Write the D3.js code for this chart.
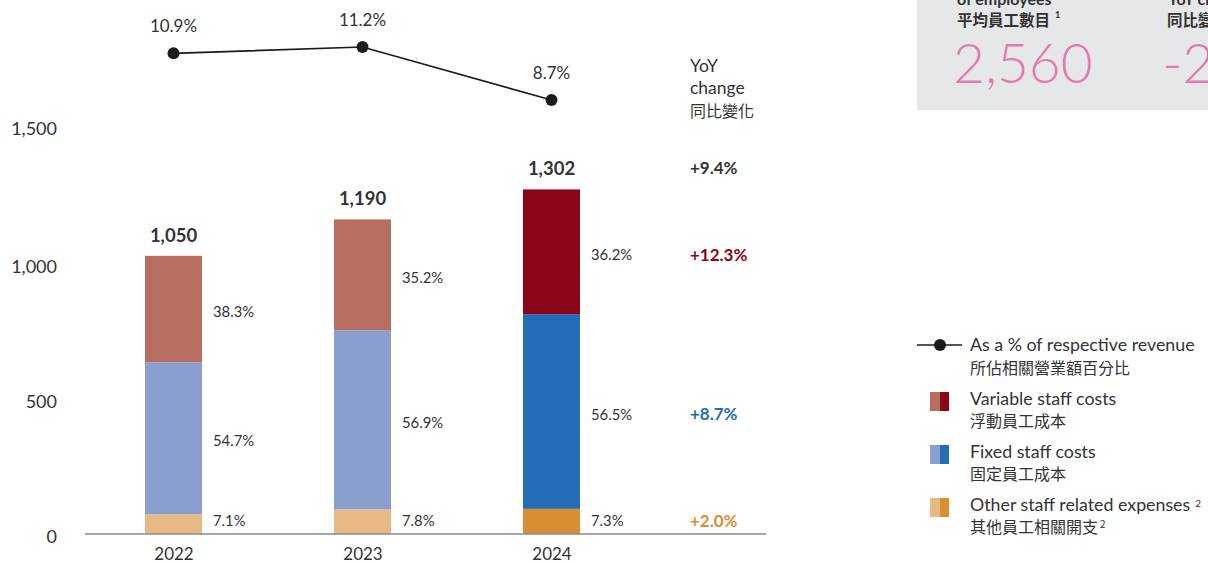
<!DOCTYPE html>
<html>
<head>
<meta charset="utf-8">
<script src="https://cdn.jsdelivr.net/npm/d3@7"></script>
<style>
  html, body { margin: 0; padding: 0; background: #fff; }
  svg { display: block; font-family: Lato, "Noto Sans", sans-serif; }
  .cjk { font-family: "Noto Sans CJK TC", "Noto Sans CJK SC", sans-serif; }
</style>
</head>
<body>
<svg id="chart" width="1208" height="564"></svg>
<script>
// Staff costs by year (HK$ m), split into components
const years = ["2022", "2023", "2024"];
const totals = [1050, 1190, 1302];
const otherShare = [7.1, 7.8, 7.3];      // % of total
const fixedShare = [54.7, 56.9, 56.5];
const variableShare = [38.3, 35.2, 36.2];
const revenueShare = [10.9, 11.2, 8.7];  // staff costs as % of respective revenue
const yoyLabels = ["+9.4%", "+12.3%", "+8.7%", "+2.0%"];
const yTicks = [0, 500, 1000, 1500];

const seriesKeys = ["other", "fixed", "variable"];
const pastColors = { other: "#E8BA83", fixed: "#8A9FD0", variable: "#B76E60" };
const currColors = { other: "#D98E32", fixed: "#236CB6", variable: "#8A0619" };
const yoyColors = ["#333333", currColors.variable, currColors.fixed, currColors.other];

const rows = years.map((yr, i) => ({
  year: yr,
  total: totals[i],
  other: totals[i] * otherShare[i] / 100,
  fixed: totals[i] * fixedShare[i] / 100,
  variable: totals[i] * variableShare[i] / 100,
  pct: { other: otherShare[i], fixed: fixedShare[i], variable: variableShare[i] }
}));

const svg = d3.select("#chart");
const textCol = "#333333";

const x = d3.scalePoint().domain(years).range([173.5, 551.5]);
const y = d3.scaleLinear().domain([0, 1500]).range([534, 137]);
const yLine = d3.scaleLinear().domain([8.7, 11.2]).range([100, 47]);
const barW = 57;

// y-axis labels
const yAxis = d3.axisLeft(y).tickValues(yTicks).tickSize(0).tickPadding(0)
  .tickFormat(d3.format(","));
const gy = svg.append("g").attr("transform", "translate(57,0)").call(yAxis);
gy.select(".domain").remove();
gy.selectAll("text").attr("font-size", 18).attr("fill", textCol)
  .attr("font-family", "Lato, sans-serif")
  .attr("dy", "0.35em")
  .attr("transform", (d) => d === 1500 ? "translate(0,-9)" : d === 1000 ? "translate(0,-3)" : d === 0 ? "translate(0,2)" : null);

// stacked bars
const stack = d3.stack().keys(seriesKeys)(rows);
stack.forEach((layer) => {
  const key = layer.key;
  svg.append("g").selectAll("rect").data(layer).join("rect")
    .attr("x", (d) => x(d.data.year) - barW / 2)
    .attr("width", barW)
    .attr("y", (d) => y(d[1]))
    .attr("height", (d) => y(d[0]) - y(d[1]))
    .attr("fill", (d) => d.data.year === "2024" ? currColors[key] : pastColors[key]);

  // share labels to the right of each segment
  svg.append("g").selectAll("text").data(layer).join("text")
    .attr("x", (d) => x(d.data.year) + barW / 2 + 11)
    .attr("y", (d) => key === "other" ? y(0) - 13 : (y(d[0]) + y(d[1])) / 2 + 3)
    .attr("dy", "0.35em")
    .attr("font-size", 14.8)
    .attr("fill", textCol)
    .text((d) => d.data.pct[key].toFixed(1) + "%");
});

// baseline
svg.append("line")
  .attr("x1", 85).attr("x2", 766)
  .attr("y1", y(0)).attr("y2", y(0))
  .attr("stroke", "#8a8a8a").attr("stroke-width", 1.5);

// totals above bars
svg.append("g").selectAll("text").data(rows).join("text")
  .attr("x", (d) => x(d.year))
  .attr("y", (d) => y(d.total) - 21)
  .attr("dy", "0.35em")
  .attr("text-anchor", "middle")
  .attr("font-size", 18.5).attr("font-weight", 700)
  .attr("fill", textCol)
  .text((d) => d3.format(",")(d.total));

// year labels
const xAxis = d3.axisBottom(x).tickSize(0).tickPadding(0);
const gx = svg.append("g").attr("transform", "translate(0,554)").call(xAxis);
gx.select(".domain").remove();
gx.selectAll("text").attr("font-size", 17).attr("fill", textCol)
  .attr("font-family", "Lato, sans-serif").attr("dy", "0.35em");

// revenue share line
const line = d3.line().x((d, i) => x(years[i])).y((d) => yLine(d));
svg.append("path").datum(revenueShare)
  .attr("d", line).attr("fill", "none")
  .attr("stroke", "#1a1a1a").attr("stroke-width", 1.6);
svg.append("g").selectAll("circle").data(revenueShare).join("circle")
  .attr("cx", (d, i) => x(years[i])).attr("cy", (d) => yLine(d))
  .attr("r", 6).attr("fill", "#1f1a1c");
svg.append("g").selectAll("text").data(revenueShare).join("text")
  .attr("x", (d, i) => x(years[i]))
  .attr("y", (d) => yLine(d) - 27)
  .attr("dy", "0.35em")
  .attr("text-anchor", "middle")
  .attr("font-size", 17).attr("fill", textCol)
  .text((d) => d.toFixed(1) + "%");

// YoY change column
const yoyX = 690;
const head = svg.append("g").attr("fill", textCol).attr("font-size", 17.5);
head.append("text").attr("x", yoyX).attr("y", 66).attr("dy", "0.35em").text("YoY");
head.append("text").attr("x", yoyX).attr("y", 88).attr("dy", "0.35em").text("change");
head.append("text").attr("class", "cjk").attr("x", yoyX).attr("y", 111).attr("dy", "0.35em")
  .attr("font-size", 16).text("同比變化");

const r24 = rows[2];
const yoyY = [
  y(r24.total) - 21,
  (y(r24.other + r24.fixed) + y(r24.total)) / 2 + 3,
  (y(r24.other) + y(r24.other + r24.fixed)) / 2 + 3,
  y(0) - 13
];
svg.append("g").selectAll("text").data(yoyLabels).join("text")
  .attr("x", yoyX)
  .attr("y", (d, i) => yoyY[i])
  .attr("dy", "0.35em")
  .attr("font-size", 17).attr("font-weight", 700)
  .attr("fill", (d, i) => yoyColors[i])
  .text((d) => d);

// headline figures panel
const panel = svg.append("g");
panel.append("rect").attr("x", 917).attr("y", 0).attr("width", 291).attr("height", 110).attr("fill", "#E6E7E9");
panel.append("text").attr("x", 957).attr("y", 5).attr("font-size", 16).attr("font-weight", 700)
  .attr("fill", textCol).text("of employees");
panel.append("text").attr("class", "cjk").attr("x", 957).attr("y", 21).attr("dy", "0.35em")
  .attr("font-size", 15.5).attr("font-weight", 700).attr("fill", textCol).text("平均員工數目");
panel.append("text").attr("x", 1055).attr("y", 18).attr("font-size", 9).attr("font-weight", 700)
  .attr("fill", textCol).text("1");
panel.append("text").attr("x", 953).attr("y", 83).attr("font-size", 55).attr("font-weight", 300)
  .attr("fill", "#E27BAC").text("2,560");
panel.append("text").attr("x", 1168).attr("y", 5).attr("font-size", 16).attr("font-weight", 700)
  .attr("fill", textCol).text("YoY change");
panel.append("text").attr("class", "cjk").attr("x", 1167).attr("y", 21).attr("dy", "0.35em")
  .attr("font-size", 15.5).attr("font-weight", 700).attr("fill", textCol).text("同比變化");
panel.append("text").attr("x", 1162).attr("y", 83).attr("font-size", 55).attr("font-weight", 300)
  .attr("fill", "#E27BAC").text("-2");

// legend
const lg = svg.append("g").attr("fill", textCol);
lg.append("line").attr("x1", 917).attr("x2", 962).attr("y1", 345).attr("y2", 345)
  .attr("stroke", "#1a1a1a").attr("stroke-width", 1.6);
lg.append("circle").attr("cx", 940).attr("cy", 345).attr("r", 6).attr("fill", "#1f1a1c");
lg.append("text").attr("x", 970).attr("y", 345).attr("dy", "0.35em").attr("font-size", 17.8)
  .text("As a % of respective revenue");
lg.append("text").attr("class", "cjk").attr("x", 970).attr("y", 368).attr("dy", "0.35em").attr("font-size", 16)
  .text("所佔相關營業額百分比");

const legendItems = [
  { key: "variable", en: "Variable staff costs", zh: "浮動員工成本", top: 392 },
  { key: "fixed", en: "Fixed staff costs", zh: "固定員工成本", top: 445 },
  { key: "other", en: "Other staff related expenses", zh: "其他員工相關開支", top: 498, note: "2" }
];
legendItems.forEach((it) => {
  lg.append("rect").attr("x", 930).attr("y", it.top).attr("width", 10).attr("height", 19).attr("fill", pastColors[it.key]);
  lg.append("rect").attr("x", 940).attr("y", it.top).attr("width", 9).attr("height", 19).attr("fill", currColors[it.key]);
  const en = lg.append("text").attr("x", 970).attr("y", it.top + 7).attr("dy", "0.35em").attr("font-size", 17.8).text(it.en);
  const zh = lg.append("text").attr("class", "cjk").attr("x", 970).attr("y", it.top + 29).attr("dy", "0.35em").attr("font-size", 16).text(it.zh);
  if (it.note) {
    en.append("tspan").attr("dx", 5).attr("dy", "-0.45em").attr("font-size", 10).text(it.note);
    zh.append("tspan").attr("dx", 2).attr("dy", "-0.45em").attr("font-size", 10).text(it.note);
  }
});
</script>
</body>
</html>
